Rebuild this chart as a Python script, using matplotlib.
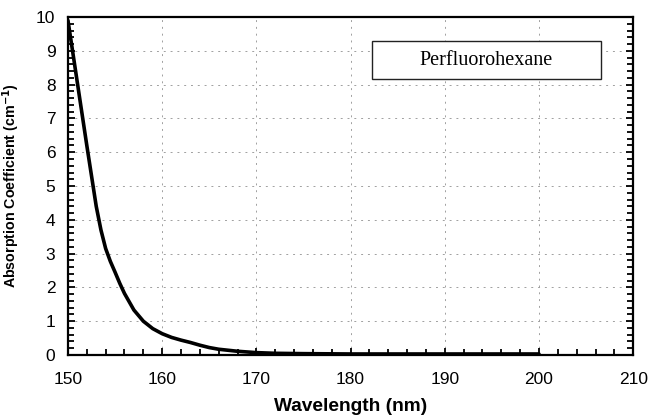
import numpy as np
import matplotlib
matplotlib.use("Agg")
import matplotlib.pyplot as plt
from matplotlib.ticker import MultipleLocator

# absorption spectrum of perfluorohexane
wavelength = [150, 151, 152, 153, 153.5, 154, 154.5, 155, 155.5, 156, 157,
              158, 159, 160, 161, 162, 163, 164, 165, 166, 167, 168, 170,
              172, 175, 180, 185, 190, 195, 200]
absorption = [9.9, 8.05, 6.2, 4.4, 3.7, 3.15, 2.77, 2.45, 2.12, 1.82, 1.33,
              1.0, 0.78, 0.63, 0.52, 0.44, 0.37, 0.29, 0.22, 0.17, 0.14, 0.11,
              0.07, 0.05, 0.04, 0.03, 0.03, 0.03, 0.03, 0.03]
x_ticks = [150, 160, 170, 180, 190, 200, 210]
y_ticks = list(range(0, 11))
label = "Perfluorohexane"

plt.rcParams["font.family"] = ["Liberation Sans", "DejaVu Sans"]

fig = plt.figure(figsize=(6.58, 4.17), dpi=100)
ax = fig.add_axes([0.1033, 0.1487, 0.859, 0.8103])

ax.plot(wavelength, absorption, color="black", lw=2.6,
        solid_capstyle="round", solid_joinstyle="round")

ax.set_xlim(150, 210)
ax.set_ylim(0, 10)
ax.set_xticks(x_ticks)
ax.set_yticks(y_ticks)
ax.xaxis.set_minor_locator(MultipleLocator(2))
ax.yaxis.set_minor_locator(MultipleLocator(0.2))
ax.tick_params(which="both", direction="in", width=1.3, labelsize=12.5)
ax.tick_params(which="major", length=5)
ax.tick_params(which="minor", length=4)
ax.tick_params(axis="x", which="major", pad=12)
ax.tick_params(axis="y", which="major", pad=9)
ax.tick_params(axis="y", which="both", right=True)
for s in ax.spines.values():
    s.set_linewidth(1.6)

ax.grid(True, which="major", color="#a0a0a0", ls=(0, (2, 5)), lw=0.7)

ax.set_xlabel("Wavelength (nm)", fontsize=13.8, fontweight="bold", labelpad=8)
ax.set_ylabel("Absorption Coefficient (cm$^{\\mathbf{-1}}$)", fontsize=10.3,
              fontweight="bold", labelpad=10)

ax.text(194.4, 8.73, label, ha="center", va="center", fontsize=14.5,
        family=["Liberation Serif", "DejaVu Serif"],
        bbox=dict(boxstyle="square,pad=0", fc="white", ec="none"), zorder=4)
ax.add_patch(plt.Rectangle((182.3, 8.17), 24.3, 1.12, fc="white",
                           ec="#222222", lw=1.0, zorder=3))

fig.savefig("out.png", dpi=100)
